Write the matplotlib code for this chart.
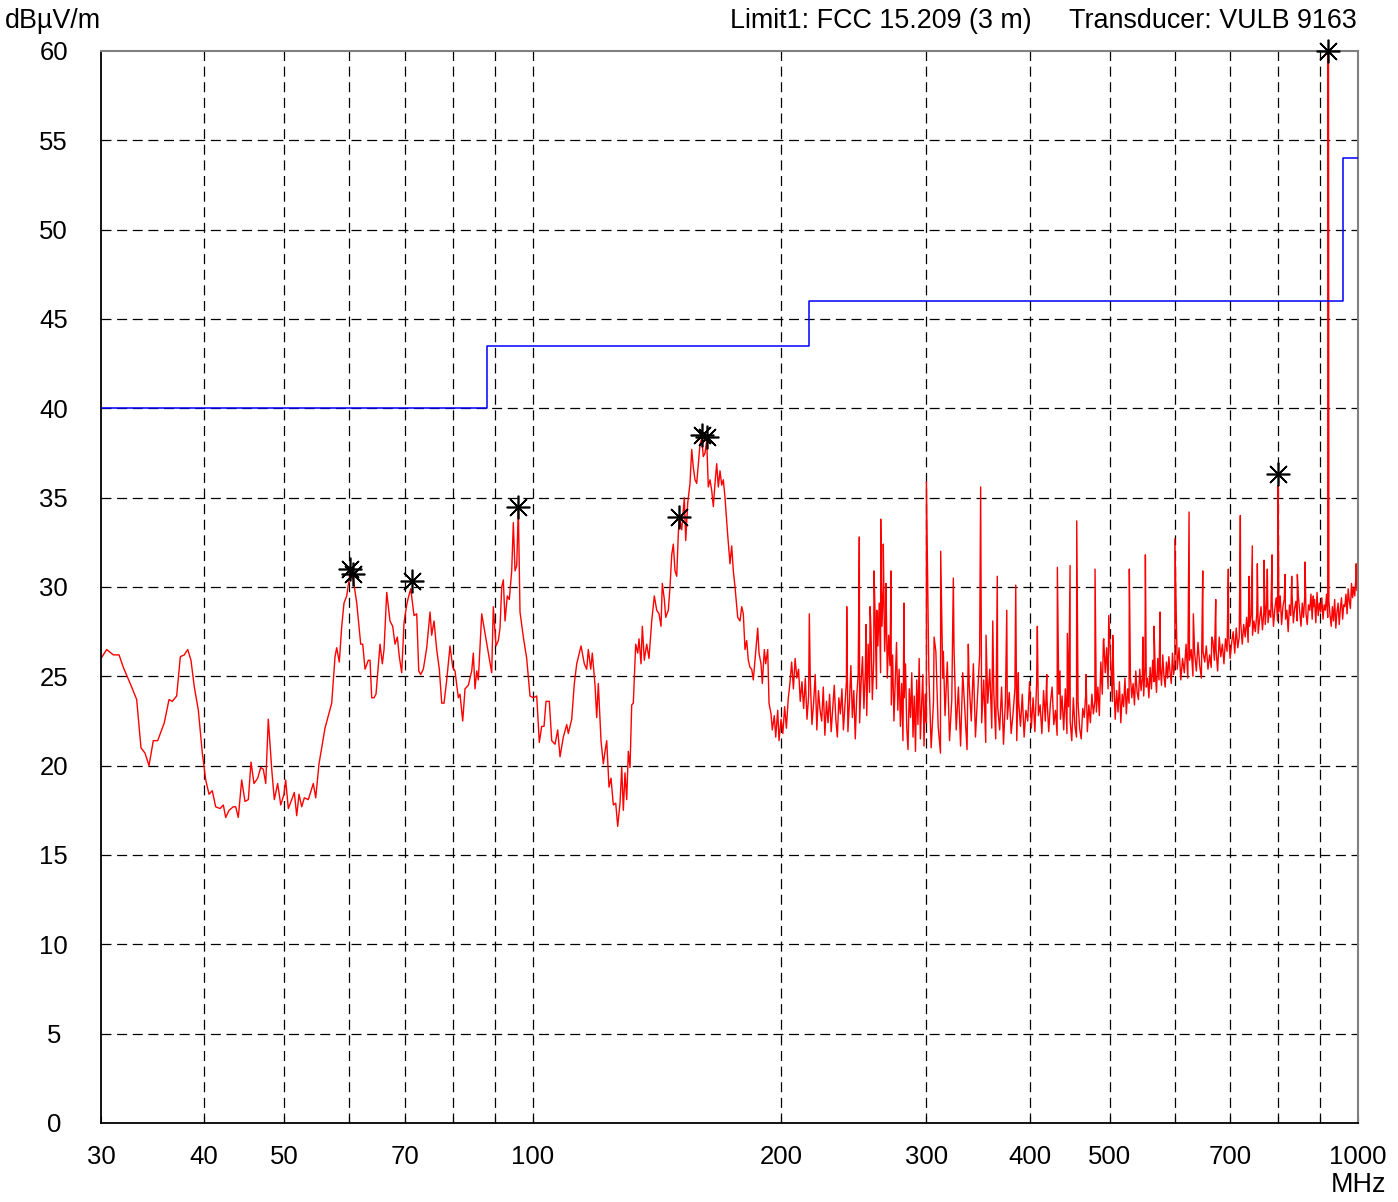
import numpy as np
import matplotlib.pyplot as plt
from matplotlib.ticker import FixedLocator, NullLocator

plt.rcParams['font.family'] = ['Liberation Sans', 'DejaVu Sans']

# limit line FCC 15.209 (3 m), step edges in MHz
limit_freq = [30, 88, 216, 960, 1000]
limit_level = [40.0, 43.5, 46.0, 54.0, 54.0]

lf_freq = [
    30.00, 30.48, 31.05, 31.55, 31.93, 32.68, 33.14, 33.54, 33.92, 34.30,
    34.71, 35.14, 35.79, 36.27, 36.60, 37.05, 37.43, 37.85, 38.21, 38.56,
    38.92, 39.36, 39.80, 40.18, 40.55, 40.92, 41.31, 41.81, 42.20, 42.48,
    42.88, 43.39, 43.68, 44.00, 44.42, 44.83, 45.25, 45.59, 45.97, 46.45,
    46.84, 47.18, 47.50, 47.84, 48.30, 48.65, 49.11, 49.53, 49.98, 50.22,
    50.59, 51.07, 51.44, 51.79, 52.12, 52.52, 52.90, 53.49, 54.24, 54.61,
    55.11, 56.04, 57.10, 57.63, 57.90, 58.32, 58.72, 59.09, 59.54, 60.09,
    60.65, 61.23, 61.91, 62.26, 62.66, 63.24, 63.54, 63.84, 64.25, 64.61,
    65.34, 65.76, 66.07, 66.57, 67.18, 67.69, 68.13, 68.57, 68.95, 69.41,
    69.86, 70.39, 70.70, 71.18, 71.84, 72.38, 72.79, 73.19, 73.73, 74.43,
    75.12, 75.47, 75.96, 76.53, 77.09, 77.61, 78.11, 78.70, 79.43, 80.03,
    80.54, 81.29, 81.67, 82.29, 82.82, 83.59, 84.38, 84.76, 85.16, 85.57,
    85.95, 86.77, 87.57, 88.38, 89.22, 89.62, 90.30, 90.88, 91.31, 91.75,
    92.16, 92.60, 93.19, 93.71, 94.34, 94.77, 95.22, 95.67, 96.10, 96.55,
    97.45, 98.37, 99.28, 100.20, 101.16, 101.89, 102.58, 103.24, 103.82, 104.78,
    105.48, 106.46, 107.26, 107.95, 108.95, 109.99, 110.48, 111.53, 112.35, 113.10,
    114.47, 115.52, 116.30, 116.82, 117.61, 118.13, 119.02, 119.59, 120.12, 121.03,
    121.81, 122.39, 122.97, 123.76, 124.46, 125.26, 126.10, 126.80, 127.62, 128.23,
    128.80, 129.41, 130.03, 130.61, 131.23, 131.85, 132.44, 133.33, 134.08, 134.57,
    135.32, 135.81, 136.57, 137.49, 138.37, 139.42, 140.43, 141.38, 142.29, 143.08,
    143.60, 144.41, 144.97, 146.03, 146.72, 147.42, 148.08, 148.78, 149.49, 150.16,
    150.58, 151.59, 152.69, 153.29, 154.15, 155.14, 155.87, 156.57, 157.32, 158.06,
    158.77, 159.53, 160.28, 161.00, 161.77, 162.53, 163.26, 164.04, 164.82, 165.56,
    166.34, 167.13, 167.88, 168.68, 169.48, 170.24, 171.05, 172.34, 173.45, 174.27,
    175.06, 175.89, 177.22, 178.36, 179.21, 180.01, 180.86, 181.72, 182.54, 183.41,
    184.28, 185.10, 185.98, 187.39, 188.07, 189.12, 189.81, 190.87, 191.62, 192.69,
    193.39, 194.47, 195.18, 196.27, 197.04, 198.14, 198.86,
]
lf_level = [
    26.0, 26.5, 26.2, 26.2, 25.5, 24.4, 23.7, 21.0, 20.7, 20.0,
    21.4, 21.4, 22.4, 23.7, 23.6, 23.9, 26.1, 26.2, 26.5, 25.9,
    24.4, 23.1, 20.7, 19.2, 18.4, 18.6, 17.7, 17.6, 17.8, 17.1,
    17.5, 17.7, 17.7, 17.1, 19.2, 18.0, 18.1, 20.2, 19.0, 19.3,
    19.9, 19.8, 19.0, 22.6, 19.8, 18.1, 19.0, 17.8, 18.4, 19.2,
    17.6, 18.1, 18.5, 17.2, 18.4, 17.7, 18.2, 18.1, 19.0, 18.2,
    20.1, 22.1, 23.5, 26.1, 26.6, 25.8, 27.8, 29.1, 29.5, 30.8,
    30.4, 29.1, 26.8, 26.8, 25.4, 25.9, 25.9, 23.8, 23.8, 24.0,
    26.8, 25.7, 26.5, 29.7, 28.1, 27.8, 26.8, 27.2, 26.1, 25.2,
    28.0, 29.0, 29.4, 29.9, 28.4, 28.5, 25.3, 25.1, 25.4, 26.6,
    28.6, 27.3, 28.1, 26.5, 25.4, 23.5, 23.5, 24.8, 26.7, 25.5,
    25.3, 23.8, 24.0, 22.5, 24.3, 24.5, 25.3, 26.3, 24.3, 25.3,
    24.8, 28.5, 27.4, 26.3, 25.2, 28.9, 26.7, 27.0, 27.7, 30.0,
    30.4, 28.1, 29.5, 29.3, 30.9, 33.6, 30.9, 31.2, 34.4, 28.6,
    27.2, 26.0, 23.9, 23.8, 23.9, 21.3, 22.2, 22.2, 23.6, 23.6,
    21.4, 21.2, 22.0, 20.5, 21.6, 22.3, 21.8, 22.6, 24.6, 25.7,
    26.7, 25.7, 25.4, 26.5, 25.4, 26.3, 24.5, 22.7, 24.6, 21.4,
    20.1, 20.8, 21.4, 18.8, 19.3, 17.8, 17.9, 16.6, 17.9, 19.9,
    17.5, 19.6, 18.1, 20.8, 19.9, 23.4, 23.5, 26.8, 26.3, 27.1,
    25.7, 27.8, 25.9, 26.8, 26.0, 28.1, 29.5, 28.7, 28.5, 27.8,
    30.2, 29.3, 28.3, 28.7, 30.0, 31.8, 32.4, 30.9, 30.6, 33.0,
    33.9, 33.2, 35.0, 32.6, 34.7, 35.8, 37.7, 36.7, 36.0, 35.8,
    36.9, 38.0, 38.3, 37.3, 37.5, 38.2, 35.6, 36.0, 35.4, 34.5,
    35.8, 36.9, 35.6, 36.5, 35.7, 36.0, 35.0, 32.9, 31.3, 32.3,
    30.9, 30.0, 28.3, 28.1, 28.9, 28.5, 26.5, 27.0, 25.9, 25.5,
    25.4, 24.8, 25.9, 27.7, 26.3, 25.7, 24.6, 26.5, 25.7, 26.5,
    23.5, 22.9, 22.0, 22.8, 21.6, 23.1, 21.4,
]

# 200..300 MHz, 1 MHz step
hf_level_a = [
    22.6, 21.8, 23.3, 22.1, 23.7, 24.6, 25.8, 24.3, 26.0, 24.9,
    25.4, 23.6, 24.7, 23.2, 24.9, 22.6, 23.9, 24.8, 22.3, 23.5,
    25.1, 22.0, 24.2, 23.1, 22.5, 24.4, 21.7, 23.6, 22.4, 24.0,
    21.9, 23.2, 24.5, 22.6, 21.6, 23.8, 22.9, 24.3, 22.0, 23.4,
    24.7, 21.9, 23.5, 25.6, 22.7, 24.2, 21.5, 23.9, 25.1, 22.4,
    24.6, 26.1, 23.2, 25.3, 22.8, 26.8, 24.1, 27.6, 23.7, 25.9,
    28.4, 24.3, 26.7, 29.1, 25.2, 27.8, 30.0, 26.4, 28.6, 24.9,
    27.3, 25.6, 23.4, 26.2, 22.5, 24.7, 26.9, 23.1, 25.4, 22.2,
    24.6, 21.4, 23.8, 25.7, 22.1, 20.9, 24.3, 22.7, 25.2, 21.6,
    23.9, 20.8, 24.8, 22.3, 26.0, 21.5, 23.4, 25.1, 21.1, 24.0,
    22.4,
]
# 302..600 MHz, 2 MHz step
hf_level_b = [
    25.3, 21.0, 23.6, 26.4, 22.2, 20.7, 24.9, 22.8, 25.8, 21.4,
    23.7, 26.6, 22.0, 24.4, 21.1, 25.2, 23.0, 20.9, 24.6, 22.5,
    25.7, 21.6, 23.9, 26.2, 22.4, 24.8, 21.3, 23.5, 25.4, 22.1,
    24.2, 21.5, 23.3, 22.0, 24.4, 21.2, 23.7, 22.6, 24.1, 21.8,
    22.9, 24.3, 21.4, 23.6, 22.2, 24.0, 21.6, 23.1, 22.5, 24.7,
    22.1, 23.8, 21.9, 24.6, 22.8, 23.4, 21.8, 24.2, 22.5, 23.7,
    21.9, 23.5, 24.4, 22.3, 23.1, 21.7, 24.0, 22.6, 23.9, 22.0,
    24.3, 21.8, 23.3, 22.5, 21.4, 23.8, 22.2, 21.6, 23.5, 22.1,
    21.5, 23.2, 22.7, 24.1, 21.9, 23.4, 22.4, 24.0, 22.9, 23.6,
    23.0, 24.4, 22.8, 25.8, 24.0, 27.1, 25.2, 26.6, 24.3, 27.4,
    25.5, 23.6, 24.8, 22.6, 24.2, 23.0, 24.7, 22.4, 24.0, 23.3,
    24.9, 22.9, 24.3, 23.5, 25.0, 23.8, 24.6, 23.4, 25.3, 24.1,
    23.7, 25.4, 24.2, 25.0, 23.9, 25.6, 24.4, 24.9, 23.8, 25.5,
    24.3, 25.9, 24.7, 25.3, 24.1, 26.0, 24.8, 25.6, 24.5, 26.2,
    25.0, 24.4, 25.8, 24.9, 26.1, 25.2, 24.6, 26.3, 25.1, 25.7,
]
# 604..1000 MHz, 3 MHz step
hf_level_c = [
    25.4, 26.6, 24.8, 26.0, 25.2, 26.8, 24.9, 25.9, 26.5, 25.0,
    26.3, 25.3, 26.9, 25.6, 24.9, 26.4, 25.8, 26.7, 25.4, 26.2,
    25.5, 27.0, 25.9, 26.5, 25.3, 27.2, 26.1, 26.8, 25.7, 27.1,
    26.4, 27.3, 26.0, 26.9, 27.5, 26.3, 27.7, 26.6, 27.2, 28.0,
    26.8, 27.9, 27.2, 28.3, 26.9, 27.8, 28.4, 27.3, 28.1, 27.5,
    28.5, 27.4, 28.2, 28.9, 27.6, 28.6, 27.9, 29.1, 28.0, 28.7,
    28.3, 29.2, 27.8, 28.8, 29.4, 28.1, 28.6, 29.5, 27.9, 28.9,
    29.3, 28.2, 28.7, 27.5, 29.0, 28.4, 29.6, 28.0, 28.8, 29.2,
    28.1, 29.4, 28.6, 27.8, 29.1, 28.3, 29.5, 28.5, 27.9, 29.0,
    28.7, 29.6, 28.2, 28.9, 29.3, 28.0, 29.7, 28.4, 29.1, 28.6,
    29.4, 28.2, 29.0, 28.7, 29.6, 28.3, 29.2, 28.4, 27.8, 28.9,
    28.1, 29.3, 27.7, 28.6, 29.1, 27.9, 28.8, 29.4, 28.2, 29.0,
    28.9, 29.6, 28.5, 29.9, 29.2, 28.8, 30.2, 29.4, 30.0, 29.5,
    30.5, 29.8, 30.7,
]

# narrow emissions above 200 MHz
spike_freq = [
    216.4, 240.2, 248.8, 253.5, 256.4, 259.2, 261.2, 264.1, 266.0, 268.0,
    271.8, 281.8, 300.0, 306.5, 312.2, 314.5, 323.4, 337.2, 349.0, 354.3,
    361.0, 365.6, 375.4, 384.9, 387.7, 408.8, 419.7, 432.3, 435.5, 444.5,
    447.9, 456.3, 468.3, 480.2, 491.5, 498.9, 504.5, 528.4, 548.6, 552.6,
    566.1, 575.7, 600.0, 624.2, 631.7, 648.5, 665.0, 672.4, 696.5, 720.2,
    738.0, 744.7, 755.2, 769.4, 776.5, 786.8, 800.0, 815.8, 831.2, 844.3,
    862.6, 882.8, 919.5, 920.5, 995.0,
]
spike_level = [
    28.5, 28.9, 32.8, 27.9, 28.9, 30.9, 28.7, 33.8, 32.4, 30.2,
    30.9, 29.1, 35.9, 27.2, 32.0, 26.4, 30.5, 26.8, 35.6, 27.3,
    28.1, 30.6, 28.7, 30.1, 25.2, 27.8, 25.1, 31.1, 25.3, 27.4,
    31.2, 33.7, 25.1, 31.0, 27.0, 28.4, 27.3, 31.0, 27.2, 31.8,
    27.8, 28.6, 32.7, 34.2, 28.5, 30.9, 27.2, 29.3, 31.0, 34.0,
    30.6, 32.3, 31.3, 31.5, 31.0, 31.8, 35.7, 30.7, 30.6, 30.7,
    31.4, 29.5, 75.0, 75.0, 31.3,
]

# peak markers
marker_freq = [60.09, 60.65, 71.5, 96.1, 150.5, 160.3, 162.5, 800.0, 920.0]
marker_level = [31.0, 30.7, 30.35, 34.5, 33.9, 38.5, 38.4, 36.3, 60.0]

xtick_vals = [30, 40, 50, 70, 100, 200, 300, 400, 500, 700, 1000]
xgrid_vals = [40, 50, 60, 70, 80, 90, 100, 200, 300, 400, 500, 600, 700, 800, 900]
ytick_vals = list(range(0, 61, 5))

# assemble the sweep
hf_freq = np.concatenate([np.arange(200, 301, 1), np.arange(302, 601, 2),
                          np.arange(604, 1001, 3)])
hf_level = np.array(hf_level_a + hf_level_b + hf_level_c)
freq = np.concatenate([lf_freq, hf_freq, spike_freq])
level = np.concatenate([lf_level, hf_level, spike_level])
order = np.argsort(freq, kind='stable')

fig = plt.figure(figsize=(13.98, 12.02), dpi=100)
ax = fig.add_axes([101 / 1398, 1 - 1123 / 1202, 1257 / 1398, 1072 / 1202])

ax.set_xscale('log')
ax.set_xlim(30, 1000)
ax.set_ylim(0, 60)

for x in xgrid_vals:
    ax.axvline(x, color='black', lw=0.9, dashes=(8, 4.5), zorder=1)
for y in ytick_vals[1:-1]:
    ax.axhline(y, color='black', lw=0.9, dashes=(8, 4.5), zorder=1)

ax.step(limit_freq, limit_level, where='post', color='#0000ff', lw=1.1, zorder=3)
ax.plot(freq[order], level[order], color='#ff0000', lw=1.0, zorder=2)
ax.plot(marker_freq, marker_level, ls='none', marker=(8, 2, 0), ms=17,
        mec='black', mfc='none', mew=1.2, clip_on=False, zorder=5)

ax.xaxis.set_major_locator(FixedLocator(xtick_vals))
ax.xaxis.set_minor_locator(FixedLocator(xgrid_vals))
ax.set_xticklabels([str(v) for v in xtick_vals])
ax.tick_params(axis='x', which='both', direction='in', length=5, width=0.8,
               labelsize=18.5, pad=16, top=False)
ax.tick_params(axis='x', which='minor', labelbottom=False)
ax.set_yticks(ytick_vals)
ax.yaxis.set_minor_locator(NullLocator())
ax.tick_params(axis='y', length=0, labelsize=18.5, pad=34)
for lab in ax.get_yticklabels():
    lab.set_horizontalalignment('center')

for side in ('left', 'bottom'):
    ax.spines[side].set_color('black')
    ax.spines[side].set_linewidth(1.3)
for side in ('top', 'right'):
    ax.spines[side].set_color('#808080')
    ax.spines[side].set_linewidth(1.5)

fig.text(5 / 1398, 1 - 21 / 1202, 'dBµV/m', ha='left', va='center', fontsize=19.4)
fig.text(1032 / 1398, 1 - 21 / 1202, 'Limit1: FCC 15.209 (3 m)', ha='right', va='center', fontsize=19.4)
fig.text(1357 / 1398, 1 - 21 / 1202, 'Transducer: VULB 9163', ha='right', va='center', fontsize=19.4)
fig.text(1386 / 1398, 1 - 1185 / 1202, 'MHz', ha='right', va='center', fontsize=19.4)

fig.savefig('out.png', dpi=100)
